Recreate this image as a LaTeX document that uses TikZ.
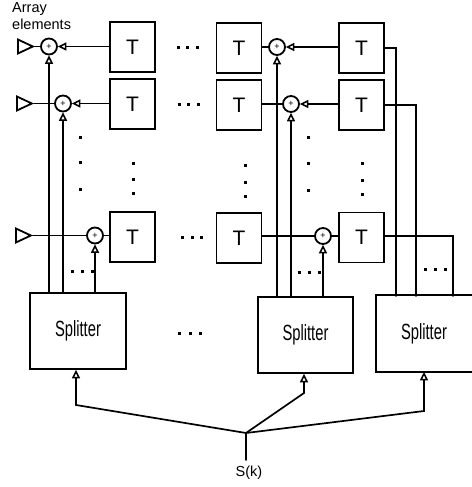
\documentclass[tikz,border=0pt]{standalone}
\usepackage{fontspec}
\setmainfont{Liberation Sans}
\usetikzlibrary{arrows.meta,shapes.geometric}
\tikzset{
  wire/.style={line width=1.7pt,line cap=round},
  feed/.style={wire,-{Triangle[open,length=8.5pt,width=8pt,line width=1.5pt]}},
  tbox/.style={draw,line width=1.8pt,minimum width=45pt,minimum height=50pt,inner sep=0pt,font=\fontsize{21}{21}\selectfont},
  split/.style={line width=1.8pt,inner sep=0pt,font=\fontsize{22}{22}\selectfont},
  adder/.style={draw,circle,line width=1.8pt,minimum size=16pt,inner sep=0pt,font=\fontsize{9}{9}\selectfont},
  elem/.style={draw,isosceles triangle,isosceles triangle apex angle=50,line width=1.8pt,minimum height=15pt,minimum width=13pt,inner sep=0pt,anchor=west,shape border rotate=0},
  dotmark/.style={fill=black,minimum size=3pt,inner sep=0pt},
  lab/.style={inner sep=0pt,font=\fontsize{14.5}{17}\selectfont}
}
\newcommand{\sptext}{\scalebox{0.67}[1]{Splitter}}
\begin{document}
\begin{tikzpicture}[x=1pt,y=-1pt]
\useasboundingbox (0,0) rectangle (471,487);
\node[lab,align=left,anchor=north west] (title) at (12,2) {Array\\elements};
% delay boxes
\node[tbox] (t11) at (132.5,47) {T};
\node[tbox] (t12) at (132.5,104) {T};
\node[tbox] (t13) at (132.5,237) {T};
\node[tbox] (t21) at (239,48) {T};
\node[tbox] (t22) at (239,105) {T};
\node[tbox] (t23) at (239,238) {T};
\node[tbox] (t31) at (361.5,48) {T};
\node[tbox] (t32) at (361.5,105) {T};
\node[tbox] (t33) at (361.5,237.5) {T};
% adders
\node[adder] (a11) at (49,46.5) {+};
\node[adder] (a12) at (63,103.5) {+};
\node[adder] (a13) at (95,235.5) {+};
\node[adder] (a21) at (277,47) {+};
\node[adder] (a22) at (291,104) {+};
\node[adder] (a23) at (323,236) {+};
% array elements
\node[elem] (e1) at (17,46.5) {};
\node[elem] (e2) at (16,103.5) {};
\node[elem] (e3) at (15,235.5) {};
% splitters
\node[split,draw,minimum width=96pt,minimum height=76pt] (s1) at (78,331) {\sptext};
\node[split,draw,minimum width=95pt,minimum height=76pt] (s2) at (305.5,335) {\sptext};
\node[split,minimum width=94pt,minimum height=75pt] (s3) at (424,333.5) {\sptext};
\draw[line width=1.8pt] (s3.north east) -- (s3.north west) -- (s3.south west) -- (s3.south east);
% feed junction
\coordinate (j) at (246,433);
\coordinate (src) at (246,460);
\node[lab,anchor=north] (sk) at (249,466) {S(k)};
\coordinate (k1) at (76,405);
\coordinate (k2) at (304,393);
\coordinate (k3) at (424,411);
\draw[wire] (src) -- (j);
\draw[feed] (j) -- (k1) -- (s1.south -| k1);
\draw[feed] (j) -- (k2) -- (s2.south -| k2);
\draw[feed] (j) -- (k3) -- (s3.south -| k3);
% splitter to adders
\foreach \s/\a in {s1/a11,s1/a12,s1/a13,s2/a21,s2/a22,s2/a23}
  \draw[feed] (\s.north -| \a) -- (\a);
% T to adders
\draw[feed] (a11 -| t11.west) -- (a11);
\draw[feed] (a12 -| t12.west) -- (a12);
\draw[feed] (a21 -| t31.west) -- (a21);
\draw[feed] (a22 -| t32.west) -- (a22);
\draw[wire] (a13 -| t13.west) -- (a13);
\draw[wire] (a23 -| t33.west) -- (a23);
\draw[wire] (a21 -| t21.east) -- (a21);
\draw[wire] (a22 -| t22.east) -- (a22);
\draw[wire] (a23 -| t23.east) -- (a23);
% element to adder
\draw[wire] (e1.apex) -- (a11);
\draw[wire] (e2.apex) -- (a12);
\draw[wire] (e3.apex) -- (a13);
% last column
\draw[wire] (t31.east) -- (396,48) -- (396,296);
\draw[wire] (t32.east) -- (416,105) -- (416,296);
\draw[wire] (t33.east |- 0,236) -- (453,236) -- (453,296);
% dots
\foreach \x/\y in {178/47.5,187/47.5,197/47.5,179/104.5,188/104.5,198/104.5,182/237,192/237,201/237,
  179/333,190/333,200/333,72/271,82/271,92/271,299/272,309/272,319/272,425/269,435/269,445/269,
  80/137,80/162,80/189,133/163,133/179,133/193,245/165,245/182,245/196,308/137,308/163,308/190,362/163,362/180,362/194}
  \node[dotmark] at (\x,\y) {};
\end{tikzpicture}
\end{document}
